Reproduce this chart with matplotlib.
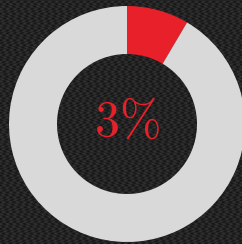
import matplotlib
matplotlib.use("Agg")
import matplotlib.pyplot as plt
import numpy as np

labels = ["Share", "Rest"]
values = [8.5, 91.5]
colors = ["#e8202a", "#d9d9d9"]
center_label = "3%"

plt.rcParams["mathtext.fontset"] = "cm"

W, H = 242, 244
fig = plt.figure(figsize=(W / 100, H / 100), dpi=100)
fig.patch.set_facecolor("#1b1b1d")
ax = fig.add_axes([0, 0, 1, 1])
ax.set_facecolor("#1b1b1d")

# subtle deterministic woven texture for the background
yy, xx = np.mgrid[0:H, 0:W]
tex = 0.5 + 0.5 * np.sin(xx * 0.9 + np.sin(yy * 0.6) * 2) * np.sin(yy * 1.3)
ax.imshow(tex, cmap="gray", vmin=-0.67, vmax=7.67, extent=[0, W, 0, H],
          aspect="auto", zorder=0, interpolation="bilinear")

wedges, _ = ax.pie(values, colors=colors, startangle=90, counterclock=False,
                   radius=118, center=(127, H - 124),
                   wedgeprops=dict(width=48, edgecolor="none"))
for w in wedges:
    w.set_zorder(2)
ax.set_xlim(0, W)
ax.set_ylim(0, H)
ax.set_aspect("auto")
ax.axis("off")

ax.text(127, H - 122, r"$3\%$", color="#e8202a", fontsize=36,
        ha="center", va="center", zorder=3)

fig.savefig("out.png", dpi=100, facecolor=fig.get_facecolor())
